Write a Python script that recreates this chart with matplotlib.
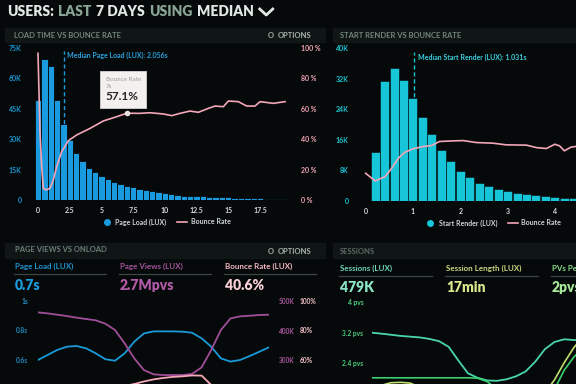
import matplotlib
matplotlib.use('Agg')
import matplotlib.pyplot as plt
from matplotlib.lines import Line2D
from matplotlib.patches import Rectangle
from matplotlib.offsetbox import TextArea, VPacker, AnnotationBbox

plt.rcParams['font.family'] = ['Lato', 'DejaVu Sans']
plt.rcParams['font.weight'] = 'bold'

# ---- data: load time vs bounce rate ----
load_bins = [i * 0.5 for i in range(40)]
load_counts = [49.4, 69.7, 66.2, 49.4, 37.5, 29.6, 23.4, 19.2, 15.8, 13.6,
               11.8, 10.2, 8.9, 7.9, 6.9, 6.2, 5.6, 4.9, 4.6, 3.95,
               3.3, 2.8, 2.5, 2.1, 2.0, 1.8, 1.8, 1.6, 1.5, 1.3,
               1.3, 1.15, 1.1, 1.0, 1.0, 0.8, 0.65, 0.6, 0.5, 0.35]  # K
bounce_x = [0, 0.16, 0.29, 0.42, 0.63, 0.95, 1.21, 1.47, 1.87, 2.39, 3.05, 4.1,
            5.15, 6.2, 7.0, 8.0, 8.83, 9.88, 10.54, 11.19, 11.98, 12.64, 13.43,
            13.95, 14.61, 15.0, 15.79, 16.45, 17.1, 17.5, 18.55, 19.47]
bounce_pct = [96.5, 43.9, 21.9, 7.7, 6.6, 7.7, 13.2, 21.9, 31.8, 39.0, 42.8, 47.1,
              52.0, 54.8, 57.1, 57.0, 57.4, 56.6, 55.5, 57.0, 58.5, 57.7, 60.3,
              61.8, 61.4, 65.1, 64.7, 61.8, 61.8, 64.7, 63.6, 64.7]
median_load = 2.056

# ---- data: start render vs bounce rate ----
render_bins = [0.2 * (i + 1) for i in range(23)]
render_counts = [12.9, 31.5, 34.7, 31.6, 27.0, 22.0, 17.6, 13.4, 10.4, 7.9, 6.3, 4.8,
                 3.8, 3.1, 2.5, 2.0, 1.7, 1.5, 1.2, 1.1, 0.9, 0.8, 0.7]  # K
render_bx = [0, 0.2, 0.41, 0.55, 0.69, 0.83, 1.0, 1.21, 1.39, 1.56, 1.85, 2.06, 2.34,
             2.69, 2.97, 3.4, 3.61, 3.82, 4.0, 4.1, 4.2, 4.34, 4.43]
render_bpct = [18.1, 13.1, 15.9, 21.4, 27.9, 31.9, 34.1, 35.6, 36.2, 38.9, 39.3, 39.5,
               38.2, 37.8, 36.7, 36.5, 34.9, 34.3, 37.1, 36.0, 32.8, 35.2, 35.6]
median_render = 1.031

# ---- data: page views vs onload (hourly) ----
hours = list(range(25))
onload_s = [0.600, 0.634, 0.668, 0.690, 0.695, 0.679, 0.645, 0.605, 0.595, 0.645,
            0.724, 0.780, 0.794, 0.794, 0.794, 0.792, 0.785, 0.747, 0.690, 0.611,
            0.589, 0.600, 0.627, 0.656, 0.686]
pageviews_k = [461.6, 458, 453.6, 449, 443.5, 439, 434.5, 423, 401.7, 356.5,
               305.6, 266, 251.4, 249, 249, 249, 252.5, 275, 334, 401.7,
               441, 448, 450, 452.5, 453.6]
nan = float('nan')
pv_bounce = [nan] * 8 + [39.7, 42.4, 43.7, 45.4, 46.8, 47.8, 48.5, 48.9, 49.5, 49.4,
                         43.0, 36.0] + [nan] * 5

# ---- data: sessions (hourly, partially visible) ----
s_hours = list(range(23))
pvs_session = [3.195, 3.17, 3.14, 3.11, 3.09, 3.07, 3.03, 2.97, 2.82, 2.46, 2.12,
               2.0, 1.93, 1.92, 1.96, 2.04, 2.17, 2.43, 2.76, 2.95, 3.02, 3.0, 3.0]
sessions_line = [2.0] * 11 + [1.99, 1.9, 1.7] + [nan] * 5 + [1.7, 2.2, 2.55, 2.8]
length_line = [1.6, 1.8, 1.87, 1.88, 1.86, 1.75, 1.5] + [nan] * 11 + [1.6, 1.95, 2.4, 2.8, 3.1]

BG = '#060909'
BLUE = '#1a9be0'
CYAN = '#16c6d8'
PINK = '#f3a6b8'
W, H = 576, 384

fig = plt.figure(figsize=(5.76, 3.84), dpi=100, facecolor=BG)
renderer = fig.canvas.get_renderer()


def fx(x):
    return x / W


def fy(y):
    return 1 - y / H


def ftext(x, y, s, **kw):
    kw.setdefault('va', 'center')
    return fig.text(fx(x), fy(y), s, **kw)


def hbar(x0, x1, y0, y1):
    fig.add_artist(Rectangle((fx(x0), fy(y1)), (x1 - x0) / W, (y1 - y0) / H,
                             transform=fig.transFigure, color='#101616', zorder=0))


def uline(x0, x1, y):
    fig.add_artist(Line2D([fx(x0), fx(x1)], [fy(y), fy(y)], transform=fig.transFigure,
                          color='#3b4643', lw=0.9))


def clean(ax):
    for s in ax.spines.values():
        s.set_visible(False)
    ax.set_facecolor('none')


# title, words placed one after another
x = 7
for s, c in [('USERS:', '#e2e8e5'), ('LAST', '#8aa596'), ('7 DAYS', '#e2e8e5'),
             ('USING', '#8aa596'), ('MEDIAN', '#e2e8e5')]:
    t = ftext(x, 12, s, color=c, fontsize=10, fontweight='heavy')
    x = t.get_window_extent(renderer).x1 + 4.5
fig.add_artist(Line2D([fx(x + 1), fx(x + 7.5), fx(x + 14)], [fy(9), fy(15), fy(9)],
                      transform=fig.transFigure, color='#e2e8e5', lw=2))

# header bars
hbar(5, 325, 28, 42)
hbar(333, 576, 28, 42)
hbar(5, 325, 243, 258)
hbar(333, 576, 243, 258)
ftext(14, 35, 'LOAD TIME VS BOUNCE RATE', color='#72857c', fontsize=5.5)
ftext(340, 35, 'START RENDER VS BOUNCE RATE', color='#72857c', fontsize=5.5)
ftext(15, 250, 'PAGE VIEWS VS ONLOAD', color='#6d7d76', fontsize=5.5)
ftext(340, 251, 'SESSIONS', color='#5d6b66', fontsize=5.5)
for y in (35, 251):
    ftext(268, y, 'O', color='#a9b5ae', fontsize=5.5)
    ftext(278, y, 'OPTIONS', color='#a9b5ae', fontsize=5.5)

# ---- panel 1 ----
ax1 = fig.add_axes([fx(33), fy(200), 258 / W, 152 / H])
clean(ax1)
ax1.bar(load_bins, load_counts, width=0.5, color=BLUE, edgecolor=BG, linewidth=0.6, zorder=3)
ax1.vlines(median_load, 0, 73.5, colors=BLUE, linestyles=(0, (3, 2)), lw=1, zorder=2)
ax1.text(2.3, 71.5, 'Median Page Load (LUX): 2.056s', color='#2aa2e0', fontsize=5, va='center')
ax1.set_xlim(-0.394, 19.94)
ax1.set_ylim(0, 75)
ax1.set_xticks([0, 2.5, 5, 7.5, 10, 12.5, 15, 17.5])
ax1.set_xticklabels(['0', '2.5', '5', '7.5', '10', '12.5', '15', '17.5'])
ax1.set_yticks([0, 15, 30, 45, 60, 75])
ax1.set_yticklabels(['0', '15K', '30K', '45K', '60K', '75K'])
ax1.tick_params(axis='x', length=0, pad=5, labelsize=5, labelcolor='#d5dadc')
ax1.tick_params(axis='y', length=0, pad=8, labelsize=5, labelcolor='#1c98d8')
ax1b = ax1.twinx()
clean(ax1b)
ax1b.plot(bounce_x, bounce_pct, color=PINK, lw=1.2, zorder=4)
ax1b.set_ylim(0, 100)
ax1b.set_yticks([0, 20, 40, 60, 80, 100])
ax1b.set_yticklabels(['0 %', '20 %', '40 %', '60 %', '80 %', '100 %'])
ax1b.tick_params(axis='y', length=0, pad=7, labelsize=5, labelcolor='#f2a3b5')
ax1b.plot(7, 57.1, 'o', ms=3, color='#e9e2e2', zorder=5)
tip = VPacker(children=[TextArea('Bounce Rate', textprops=dict(color='#9a9a9a', fontsize=4.5, fontweight='normal')),
                        TextArea('7s', textprops=dict(color='#9a9a9a', fontsize=4.5, fontweight='normal')),
                        TextArea('57.1%', textprops=dict(color='#262626', fontsize=8.5, fontweight='bold'))],
              align='left', pad=0, sep=1.5)
ab = AnnotationBbox(tip, (7, 57.1), xybox=(-2.5, 17), boxcoords='offset points',
                    frameon=True, pad=0.4, zorder=6,
                    bboxprops=dict(facecolor='#f4f0f0', edgecolor='#d9d2d2', lw=0.6))
ax1b.add_artist(ab)
fig.legend([Line2D([], [], marker='o', ls='', color=BLUE, ms=4),
            Line2D([], [], color=PINK, lw=1.2)],
           ['Page Load (LUX)', 'Bounce Rate'], loc='center', bbox_to_anchor=(fx(166), fy(222)),
           ncol=2, frameon=False, fontsize=5, labelcolor='#cdd2d4', handlelength=1.5,
           columnspacing=1.5, handletextpad=0.5)

# ---- panel 2 ----
ax2 = fig.add_axes([fx(360), fy(201), 250 / W, 153 / H])
clean(ax2)
ax2.bar(render_bins, render_counts, width=0.19, color=CYAN, edgecolor=BG, linewidth=0.4, zorder=3)
ax2.vlines(median_render, 0, 39, colors=CYAN, linestyles=(0, (3, 2)), lw=1, zorder=2)
ax2.text(1.1, 37.6, 'Median Start Render (LUX): 1.031s', color='#3ccfe0', fontsize=5, va='center')
ax2.set_xlim(-0.12, 5.165)
ax2.set_ylim(0, 40)
ax2.set_xticks([0, 1, 2, 3, 4])
ax2.set_yticks([0, 8, 16, 24, 32, 40])
ax2.set_yticklabels(['0', '8K', '16K', '24K', '32K', '40K'])
ax2.tick_params(axis='x', length=0, pad=5, labelsize=5, labelcolor='#d5dadc')
ax2.tick_params(axis='y', length=0, pad=8, labelsize=5, labelcolor='#1fc3d3')
ax2b = ax2.twinx()
clean(ax2b)
ax2b.plot(render_bx, render_bpct, color=PINK, lw=1.2, zorder=4)
ax2b.set_ylim(0, 100)
ax2b.set_yticks([])
fig.legend([Line2D([], [], marker='o', ls='', color=CYAN, ms=4),
            Line2D([], [], color=PINK, lw=1.2)],
           ['Start Render (LUX)', 'Bounce Rate'], loc='center', bbox_to_anchor=(fx(493), fy(223)),
           ncol=2, frameon=False, fontsize=5, labelcolor='#cdd2d4', handlelength=1.5,
           columnspacing=1.5, handletextpad=0.5)

# ---- panel 3 KPIs ----
for x, lab, val, c1, c2 in [(15, 'Page Load (LUX)', '0.7s', '#1f96d2', '#1a9ee0'),
                            (120, 'Page Views (LUX)', '2.7Mpvs', '#a4539c', '#b05aa8'),
                            (225, 'Bounce Rate (LUX)', '40.6%', '#f4b8c2', '#f9d0d6')]:
    ftext(x, 266, lab, color=c1, fontsize=5.8)
    uline(x - 1, x + 91, 274)
    ftext(x, 286, val, color=c2, fontsize=10, fontweight='heavy')

ax3 = fig.add_axes([fx(38), fy(384), 231 / W, 88 / H])
clean(ax3)
ax3.plot(hours, onload_s, color='#1a9ad8', lw=1.3)
ax3.set_xlim(0, 24)
ax3.set_ylim(0.437, 1.034)
ax3.set_xticks([])
ax3.set_yticks([0.6, 0.8, 1.0])
ax3.set_yticklabels(['0.6s', '0.8s', '1s'])
ax3.tick_params(axis='y', length=0, pad=7, labelsize=4.8, labelcolor='#2189c0')
ax3b = ax3.twinx()
clean(ax3b)
ax3b.plot(hours, pageviews_k, color='#a04e98', lw=1.3)
ax3b.set_ylim(218.6, 517)
ax3b.set_yticks([300, 400, 500])
ax3b.set_yticklabels(['300K', '400K', '500K'])
ax3b.tick_params(axis='y', length=0, pad=7, labelsize=4.8, labelcolor='#a8559e')
ax3c = ax3.twinx()
clean(ax3c)
ax3c.plot(hours, pv_bounce, color='#f5a8b5', lw=1.3)
ax3c.set_ylim(43.7, 103.4)
ax3c.set_yticks([60, 80, 100])
ax3c.set_yticklabels(['60%', '80%', '100%'])
ax3c.tick_params(axis='y', length=0, pad=22, labelsize=4.8, labelcolor='#f6c4cc')

# ---- panel 4 KPIs (the third one runs off the right edge, as in the screen) ----
for x, lab, val, c1, c2 in [(340, 'Sessions (LUX)', '479K', '#6fd6b6', '#8be6c6'),
                            (446, 'Session Length (LUX)', '17min', '#c7d982', '#d8e78e'),
                            (552, 'PVs Per Session (LUX)', '2pvs', '#86de8a', '#a6ea9a')]:
    ftext(x, 268, lab, color=c1, fontsize=5.8)
    uline(x - 1, x + 92, 276)
    ftext(x, 287, val, color=c2, fontsize=10, fontweight='heavy')

ax4 = fig.add_axes([fx(371.7), fy(384), 231 / W, 88 / H])
clean(ax4)
ax4.plot(s_hours, pvs_session, color='#49d6a8', lw=1.3)
ax4.plot(s_hours, sessions_line, color='#3ccf6e', lw=1.2)
ax4.plot(s_hours, length_line, color='#bfe06a', lw=1.2)
ax4.set_xlim(0, 24)
ax4.set_ylim(1.836, 4.167)
ax4.set_xticks([])
ax4.set_yticks([2.4, 3.2, 4.0])
ax4.set_yticklabels(['2.4 pvs', '3.2 pvs', '4 pvs'])
ax4.tick_params(axis='y', length=0, pad=6, labelsize=4.8, labelcolor='#4fcf7f')

fig.savefig('out.png', dpi=100, facecolor=fig.get_facecolor())
